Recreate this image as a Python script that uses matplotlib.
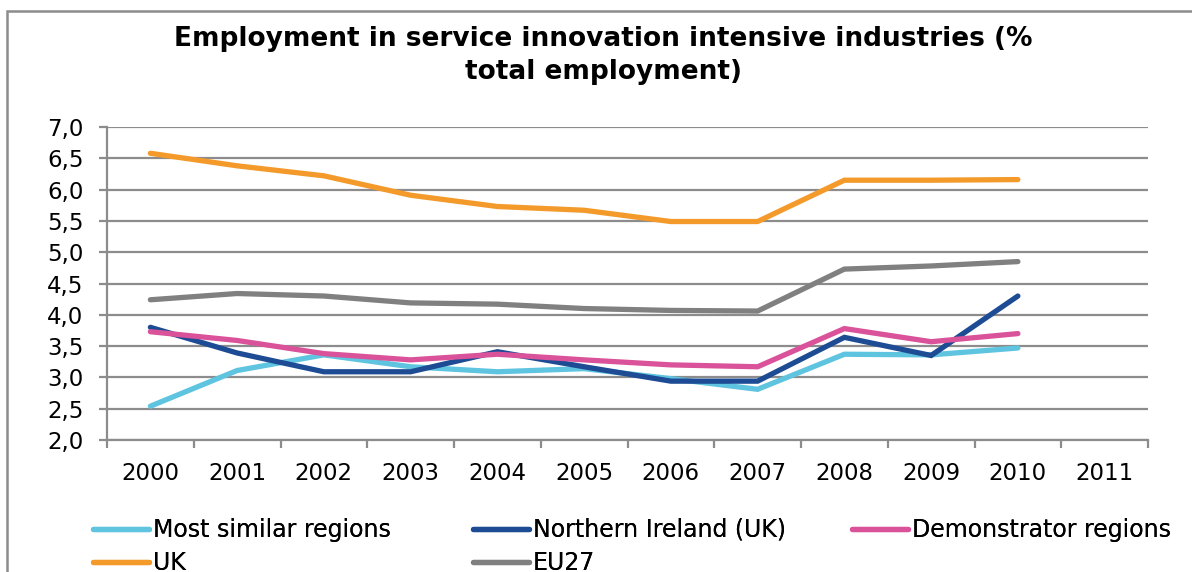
import matplotlib
matplotlib.use("Agg")
import matplotlib.pyplot as plt
import numpy as np
from matplotlib.patches import Rectangle

years = ["2000", "2001", "2002", "2003", "2004", "2005",
         "2006", "2007", "2008", "2009", "2010", "2011"]

most_similar = [2.54, 3.11, 3.36, 3.17, 3.09, 3.14, 2.98, 2.81, 3.37, 3.36, 3.47]
northern_ireland = [3.80, 3.39, 3.09, 3.09, 3.41, 3.17, 2.94, 2.94, 3.64, 3.35, 4.30]
demonstrator = [3.73, 3.59, 3.38, 3.28, 3.37, 3.28, 3.20, 3.17, 3.78, 3.57, 3.70]
uk = [6.58, 6.38, 6.22, 5.91, 5.73, 5.67, 5.49, 5.49, 6.15, 6.15, 6.16]
eu27 = [4.24, 4.34, 4.30, 4.19, 4.17, 4.10, 4.07, 4.06, 4.73, 4.78, 4.85]

y_ticks = [2.0, 2.5, 3.0, 3.5, 4.0, 4.5, 5.0, 5.5, 6.0, 6.5, 7.0]

C_LIGHT = "#5fc4df"
C_NAVY = "#1d4b94"
C_PINK = "#d9529a"
C_ORANGE = "#f39a2b"
C_GREY = "#808080"
GRID = "#8c8c8c"
FS = 16.5
W, H = 1192, 572

fig = plt.figure(figsize=(W / 100, H / 100), dpi=100)
ax = fig.add_axes([107 / W, 1 - 440 / H, (1148 - 107) / W, (440 - 127) / H])

x = np.arange(len(most_similar))
lw = 3.8
series = [
    ("Most similar regions", most_similar, C_LIGHT),
    ("Northern Ireland (UK)", northern_ireland, C_NAVY),
    ("Demonstrator regions", demonstrator, C_PINK),
    ("UK", uk, C_ORANGE),
    ("EU27", eu27, C_GREY),
]
handles = {}
for name, vals, col in series:
    (h,) = ax.plot(x, vals, color=col, lw=lw, solid_capstyle="round",
                   solid_joinstyle="miter", label=name, zorder=3)
    handles[name] = h

ax.set_xlim(-0.5, len(years) - 0.5)
ax.set_ylim(2.0, 7.0)
ax.set_yticks(y_ticks)
ax.set_yticklabels([f"{v:.1f}".replace(".", ",") for v in y_ticks], fontsize=FS)
ax.yaxis.grid(True, color=GRID, lw=1.6)
ax.set_axisbelow(True)

# category boundaries get the tick marks, labels sit between them
ax.set_xticks(np.arange(-0.5, len(years), 1.0))
ax.set_xticklabels([])
ax.set_xticks(np.arange(len(years)), minor=True)
ax.set_xticklabels(years, minor=True, fontsize=FS)
ax.tick_params(axis="x", which="major", length=6, width=1.6, color=GRID)
ax.tick_params(axis="x", which="minor", length=0, pad=16)
ax.tick_params(axis="y", length=6, width=1.6, color=GRID, pad=11)

for side in ("top", "right"):
    ax.spines[side].set_visible(False)
for side in ("left", "bottom"):
    ax.spines[side].set_color(GRID)
    ax.spines[side].set_linewidth(1.6)

fig.text(0.506, 1 - 26 / H,
         "Employment in service innovation intensive industries (%\ntotal employment)",
         ha="center", va="top", fontsize=19, fontweight="bold",
         linespacing=1.36)

# three fixed-width legend columns
columns = [
    (93, ["Most similar regions", "UK"]),
    (473, ["Northern Ireland (UK)", "EU27"]),
    (852, ["Demonstrator regions"]),
]
for left, names in columns:
    leg = fig.legend([handles[n] for n in names], names, frameon=False,
                     fontsize=17, loc="upper left",
                     bbox_to_anchor=(left / W, 1 - 518 / H),
                     handlelength=2.37, handletextpad=0.17,
                     labelspacing=0.4, borderaxespad=0, borderpad=0)
    fig.add_artist(leg)

fig.patches.append(Rectangle((7 / W, -0.1), 1.2, 1.1 - 11 / H,
                             transform=fig.transFigure, fill=False,
                             edgecolor=GRID, lw=1.8, clip_on=False))

fig.savefig("out.png", dpi=100, facecolor="white")
